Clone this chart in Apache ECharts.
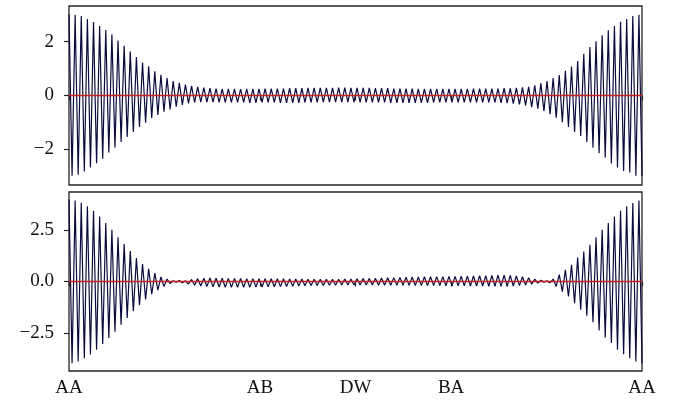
<!DOCTYPE html>
<html>
<head>
<meta charset="utf-8">
<script src="https://cdn.jsdelivr.net/npm/echarts@6/dist/echarts.min.js"></script>
<style>
  html, body { margin: 0; padding: 0; background: #fff; }
  #chart { width: 685px; height: 410px; }
</style>
</head>
<body>
<div id="chart"></div>
<script>
// path ticks (k-point index along the path)
const tickPos = [0, 62.3, 93.5, 124.7, 187];
const tickLabels = ["AA", "AB", "DW", "BA", "AA"];

const topTicks = [-2, 0, 2];
const bottomTicks = [-2.5, 0, 2.5];

// upper panel, one value per k-point
const topValues = [
    3.01, -2.99, 3.00, -2.95, 2.96, -2.83, 2.85, -2.68, 2.73, -2.52,
    2.59, -2.35, 2.44, -2.12, 2.27, -1.94, 2.05, -1.73, 1.85, -1.54,
    1.64, -1.36, 1.43, -1.17, 1.23, -1.01, 1.09, -0.84, 0.90, -0.72,
    0.77, -0.60, 0.65, -0.52, 0.54, -0.42, 0.47, -0.35, 0.41, -0.29,
    0.36, -0.26, 0.32, -0.25, 0.29, -0.25, 0.27, -0.25, 0.26, -0.26,
    0.25, -0.26, 0.25, -0.26, 0.25, -0.26, 0.24, -0.26, 0.25, -0.27,
    0.25, -0.27, 0.25, -0.26, 0.26, -0.26, 0.26, -0.26, 0.26, -0.27,
    0.26, -0.27, 0.27, -0.27, 0.27, -0.27, 0.27, -0.26, 0.28, -0.26,
    0.28, -0.26, 0.28, -0.25, 0.28, -0.25, 0.28, -0.25, 0.29, -0.25,
    0.29, -0.25, 0.28, -0.25, 0.28, -0.26, 0.28, -0.26, 0.28, -0.26,
    0.27, -0.26, 0.27, -0.26, 0.27, -0.27, 0.26, -0.27, 0.26, -0.27,
    0.26, -0.27, 0.26, -0.27, 0.25, -0.27, 0.25, -0.27, 0.25, -0.26,
    0.25, -0.26, 0.25, -0.26, 0.25, -0.26, 0.25, -0.26, 0.25, -0.26,
    0.25, -0.26, 0.26, -0.26, 0.26, -0.26, 0.26, -0.26, 0.26, -0.26,
    0.26, -0.27, 0.27, -0.28, 0.27, -0.30, 0.28, -0.33, 0.30, -0.37,
    0.32, -0.43, 0.38, -0.49, 0.45, -0.58, 0.54, -0.70, 0.65, -0.83,
    0.76, -0.99, 0.92, -1.17, 1.08, -1.36, 1.28, -1.51, 1.55, -1.73,
    1.80, -1.94, 2.02, -2.15, 2.24, -2.31, 2.43, -2.53, 2.59, -2.68,
    2.74, -2.81, 2.85, -2.86, 2.96, -2.99, 3.00, -3.00
];

// lower panel
const bottomValues = [
    4.00, -3.98, 3.95, -3.90, 3.84, -3.74, 3.67, -3.56, 3.45, -3.33,
    3.17, -3.05, 2.85, -2.75, 2.52, -2.45, 2.16, -2.10, 1.82, -1.78,
    1.48, -1.45, 1.14, -1.15, 0.85, -0.88, 0.62, -0.62, 0.41, -0.42,
    0.22, -0.25, 0.12, -0.10, 0.04, -0.03, 0.05, -0.06, 0.03, -0.12,
    0.10, -0.18, 0.14, -0.22, 0.16, -0.24, 0.17, -0.26, 0.16, -0.27,
    0.16, -0.28, 0.15, -0.28, 0.15, -0.28, 0.15, -0.28, 0.14, -0.28,
    0.14, -0.27, 0.14, -0.27, 0.14, -0.26, 0.13, -0.26, 0.13, -0.25,
    0.13, -0.24, 0.12, -0.23, 0.12, -0.22, 0.12, -0.21, 0.11, -0.20,
    0.11, -0.19, 0.11, -0.19, 0.11, -0.18, 0.11, -0.18, 0.11, -0.17,
    0.12, -0.17, 0.12, -0.17, 0.13, -0.17, 0.14, -0.17, 0.15, -0.17,
    0.16, -0.18, 0.17, -0.18, 0.18, -0.18, 0.19, -0.19, 0.20, -0.19,
    0.21, -0.19, 0.22, -0.20, 0.22, -0.20, 0.23, -0.20, 0.23, -0.20,
    0.24, -0.20, 0.24, -0.21, 0.25, -0.21, 0.25, -0.21, 0.26, -0.21,
    0.26, -0.22, 0.27, -0.22, 0.28, -0.22, 0.29, -0.23, 0.30, -0.23,
    0.31, -0.24, 0.31, -0.23, 0.30, -0.22, 0.27, -0.20, 0.23, -0.17,
    0.18, -0.13, 0.12, -0.08, 0.06, -0.03, 0.03, -0.06, 0.12, -0.24,
    0.33, -0.49, 0.57, -0.73, 0.81, -1.06, 1.17, -1.38, 1.46, -1.67,
    1.79, -1.98, 2.16, -2.39, 2.52, -2.73, 2.85, -3.00, 3.17, -3.33,
    3.45, -3.54, 3.66, -3.74, 3.82, -3.90, 3.95, -3.98
];

const FONT = "Liberation Serif";
const INK = "#262626";
const LINE = "#0b0b3d";
const ZERO = "#cc2020";

const fmtMinus = s => String(s).replace("-", "\u2212");

function xAxisFor(idx, showLabels) {
    return {
        type: "value",
        gridIndex: idx,
        min: 0,
        max: 187,
        axisLine: { show: false },
        splitLine: { show: false },
        axisTick: {
            show: true,
            inside: false,
            length: 5,
            customValues: tickPos,
            lineStyle: { color: INK, width: 1.2 }
        },
        axisLabel: {
            show: showLabels,
            customValues: tickPos,
            showMinLabel: true,
            showMaxLabel: true,
            margin: 8,
            fontFamily: FONT,
            fontSize: 19,
            color: "#111",
            formatter: v => tickLabels[tickPos.indexOf(v)] || ""
        }
    };
}

function yAxisFor(idx, lim, ticks, digits) {
    return {
        type: "value",
        gridIndex: idx,
        min: -lim,
        max: lim,
        axisLine: { show: false },
        splitLine: { show: false },
        axisTick: {
            show: true,
            length: 5,
            customValues: ticks,
            lineStyle: { color: INK, width: 1.2 }
        },
        axisLabel: {
            customValues: ticks,
            margin: 15,
            fontFamily: FONT,
            fontSize: 19,
            color: "#111",
            formatter: v => fmtMinus(v.toFixed(digits))
        }
    };
}

function waveSeries(idx, values) {
    return {
        type: "line",
        xAxisIndex: idx,
        yAxisIndex: idx,
        data: values.map((v, i) => [i, v]),
        showSymbol: false,
        symbol: "none",
        animation: false,
        lineStyle: { color: LINE, width: 1.2 },
        zlevel: 0,
        z: 2
    };
}

// horizontal reference line at zero, spanning the path ends
function zeroSeries(idx) {
    return {
        type: "line",
        xAxisIndex: idx,
        yAxisIndex: idx,
        data: [[tickPos[0], 0], [tickPos[tickPos.length - 1], 0]],
        showSymbol: false,
        symbol: "none",
        animation: false,
        silent: true,
        color: ZERO,
        lineStyle: { color: ZERO, width: 1.3 },
        zlevel: 1,
        z: 10
    };
}

const chart = echarts.init(document.getElementById("chart"));

chart.setOption({
    backgroundColor: "#fff",
    animation: false,
    grid: [
        { left: 69, right: 43, top: 6, height: 179, show: true, borderColor: INK, borderWidth: 1.3, backgroundColor: "transparent" },
        { left: 69, right: 43, top: 192, height: 179, show: true, borderColor: INK, borderWidth: 1.3, backgroundColor: "transparent" }
    ],
    xAxis: [xAxisFor(0, false), xAxisFor(1, true)],
    yAxis: [
        yAxisFor(0, 3.33, topTicks, 0),
        yAxisFor(1, 4.36, bottomTicks, 1)
    ],
    series: [
        waveSeries(0, topValues),
        waveSeries(1, bottomValues),
        zeroSeries(0),
        zeroSeries(1)
    ]
});
</script>
</body>
</html>
